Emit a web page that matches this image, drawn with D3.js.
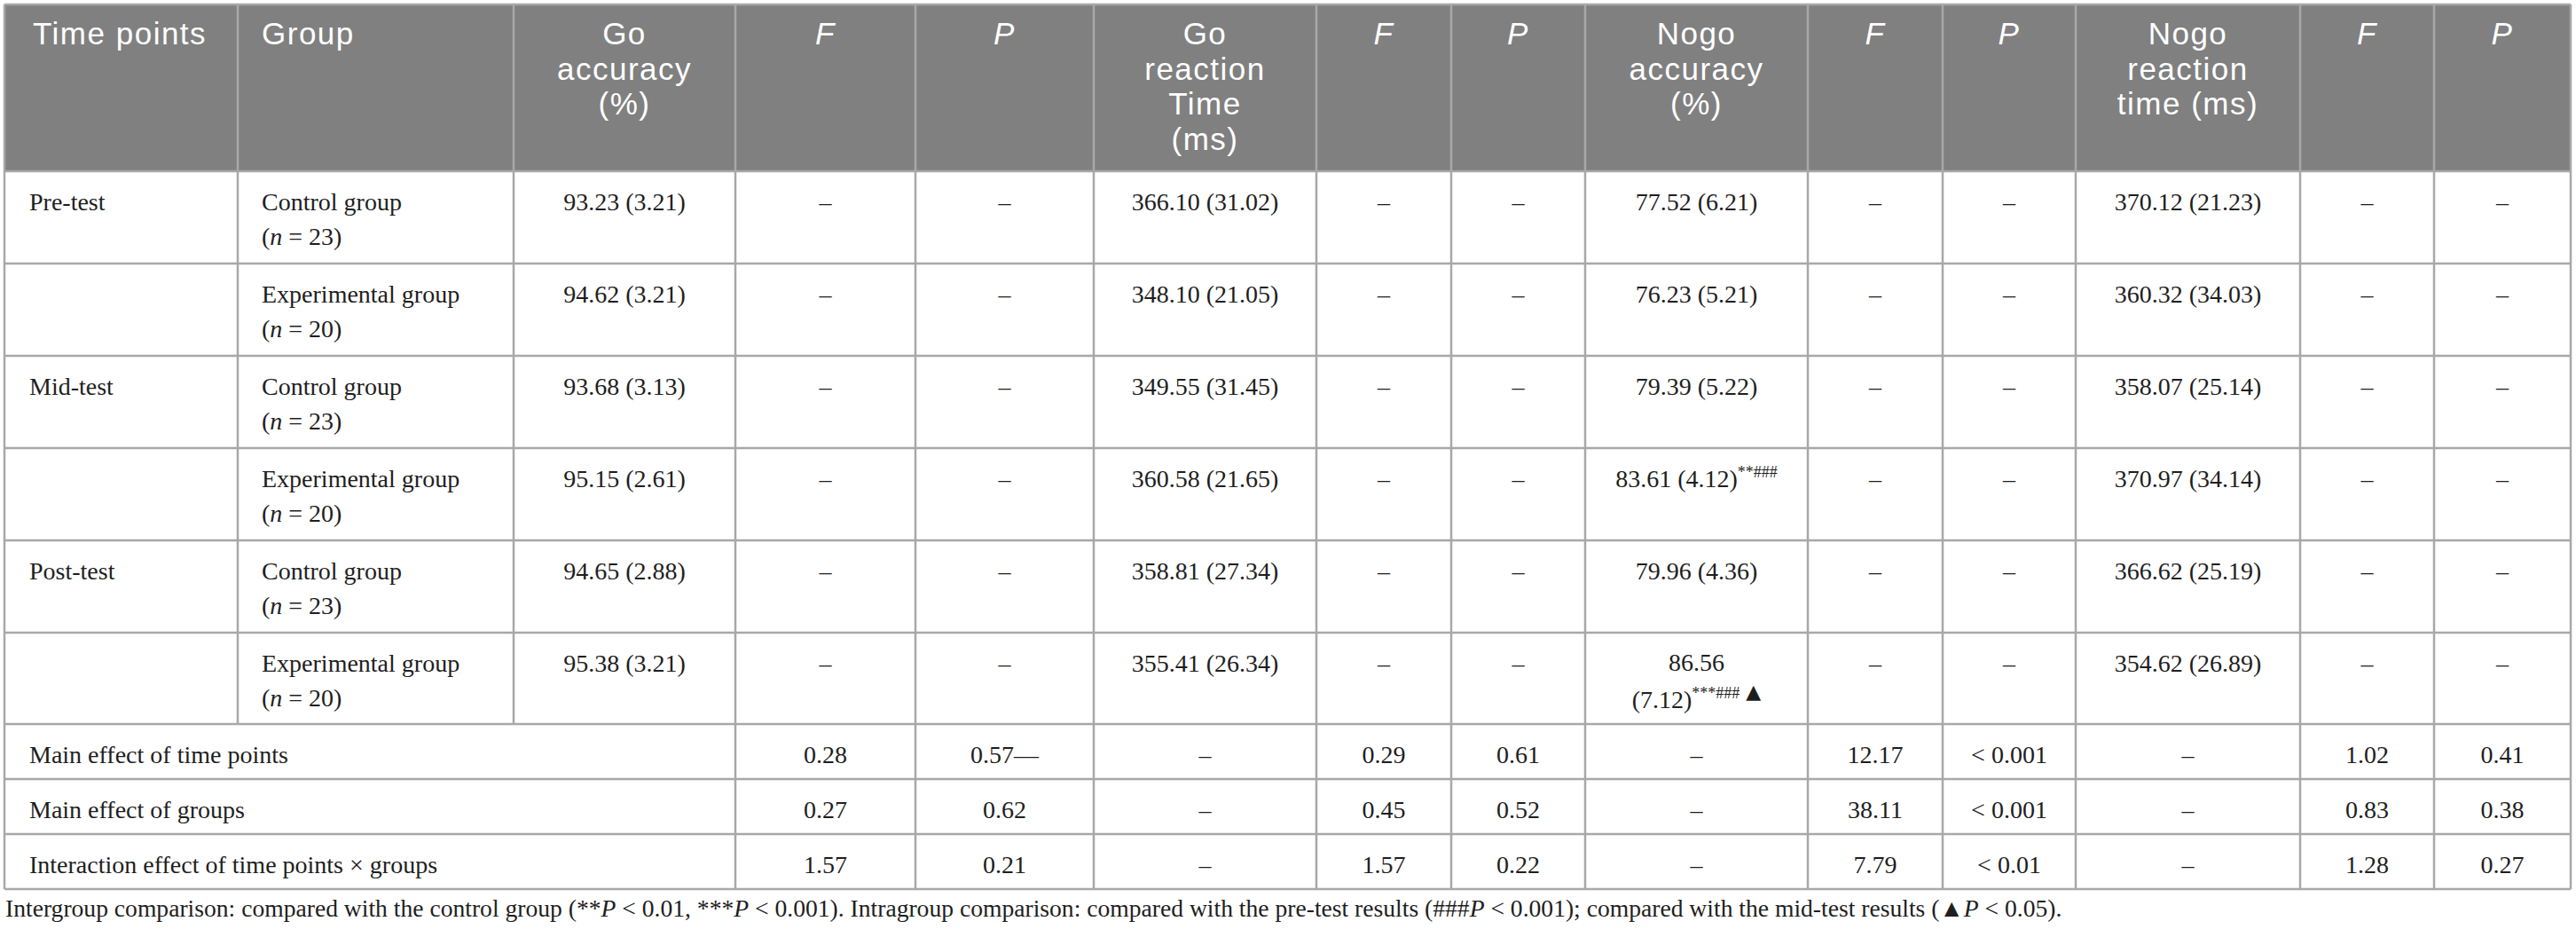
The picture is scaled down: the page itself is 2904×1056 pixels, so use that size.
<!DOCTYPE html>
<html>
<head>
<meta charset="utf-8">
<script src="https://cdn.jsdelivr.net/npm/d3@7"></script>
<style>
  body { margin: 0; background: #fff; }
</style>
</head>
<body>
<div id="app"></div>
<script>
// Table values
const headers = [
    ["Time points"], ["Group"], ["Go", "accuracy", "(%)"], ["F"], ["P"],
    ["Go", "reaction", "Time", "(ms)"], ["F"], ["P"],
    ["Nogo", "accuracy", "(%)"], ["F"], ["P"],
    ["Nogo", "reaction", "time (ms)"], ["F"], ["P"]
];

const timePoints = ["Pre-test", "", "Mid-test", "", "Post-test", ""];
const groupNames = ["Control group", "Experimental group", "Control group", "Experimental group", "Control group", "Experimental group"];
const groupSizes = [23, 20, 23, 20, 23, 20];

const goAccuracy = ["93.23 (3.21)", "94.62 (3.21)", "93.68 (3.13)", "95.15 (2.61)", "94.65 (2.88)", "95.38 (3.21)"];
const goReaction = ["366.10 (31.02)", "348.10 (21.05)", "349.55 (31.45)", "360.58 (21.65)", "358.81 (27.34)", "355.41 (26.34)"];
const nogoAccuracy = ["77.52 (6.21)", "76.23 (5.21)", "79.39 (5.22)", "83.61 (4.12)", "79.96 (4.36)", "86.56 (7.12)"];
const nogoMarks = ["", "", "", "**###", "", "***###"];
const nogoTriangle = [false, false, false, false, false, true];
const nogoReaction = ["370.12 (21.23)", "360.32 (34.03)", "358.07 (25.14)", "370.97 (34.14)", "366.62 (25.19)", "354.62 (26.89)"];

const effectLabels = ["Main effect of time points", "Main effect of groups", "Interaction effect of time points \u00D7 groups"];
const goAccF = ["0.28", "0.27", "1.57"];
const goAccP = ["0.57\u2014", "0.62", "0.21"];
const goRtF = ["0.29", "0.45", "1.57"];
const goRtP = ["0.61", "0.52", "0.22"];
const nogoAccF = ["12.17", "38.11", "7.79"];
const nogoAccP = ["< 0.001", "< 0.001", "< 0.01"];
const nogoRtF = ["1.02", "0.83", "1.28"];
const nogoRtP = ["0.41", "0.38", "0.27"];

const dash = "\u2013";

// Layout
const width = 2904;
const height = 1056;
const colEdges = [5, 268, 579, 829, 1032, 1233, 1484, 1636, 1787, 2038, 2190, 2340, 2593, 2744, 2898];
const rowEdges = [5, 193, 297, 401, 505, 609, 713, 816, 878, 940, 1002];

const sans = "'Liberation Sans', Arial, sans-serif";
const serif = "'Liberation Serif', 'DejaVu Serif', serif";
const lineColor = "#a8a8a8";
const textColor = "#1e1e1e";
const bodySize = 28;
const lineGap = 39;

// piecewise scales: column / row index -> pixel
const x = d3.scaleLinear().domain(d3.range(colEdges.length)).range(colEdges);
const y = d3.scaleLinear().domain(d3.range(rowEdges.length)).range(rowEdges);

const svg = d3.select('#app').append('svg')
    .attr('width', width)
    .attr('height', height)
    .attr('viewBox', `0 0 ${width} ${height}`)
    .style('display', 'block');

// Header background
svg.append('rect')
    .attr('x', x(0))
    .attr('y', y(0))
    .attr('width', x(14) - x(0))
    .attr('height', y(1) - y(0))
    .attr('fill', '#808080');

// Header text
const headerG = svg.append('g')
    .attr('font-family', sans)
    .attr('font-size', 35)
    .attr('letter-spacing', 1.5)
    .attr('fill', '#fff');

headers.forEach((lines, i) => {
    const left = i < 2;
    const tx = left ? x(i) + (i === 0 ? 32 : 27) : (x(i) + x(i + 1)) / 2;
    const italic = lines[0] === 'F' || lines[0] === 'P';
    lines.forEach((l, j) => {
        headerG.append('text')
            .attr('x', tx)
            .attr('y', y(0) + 45 + j * 39.5)
            .attr('text-anchor', left ? 'start' : 'middle')
            .attr('font-style', italic ? 'italic' : 'normal')
            .text(l);
    });
});

// Body
const bodyG = svg.append('g')
    .attr('font-family', serif)
    .attr('font-size', bodySize)
    .attr('fill', textColor);

function addMarks(t, marks, triangle) {
    t.append('tspan')
        .attr('dy', -11)
        .attr('font-size', 18)
        .text(marks);
    if (triangle) {
        t.append('tspan')
            .attr('font-size', 22)
            .attr('font-family', "'DejaVu Sans', sans-serif")
            .text(' \u25B2');
    }
}

function centerCell(col, rowTop, value, marks, triangle) {
    const cx = (x(col) + x(col + 1)) / 2;
    const t = bodyG.append('text')
        .attr('x', cx)
        .attr('y', rowTop + 44)
        .attr('text-anchor', 'middle');
    t.append('tspan').text(value);
    if (marks) addMarks(t, marks, triangle);

    // wrap to a second line when it doesn't fit in the column
    const avail = x(col + 1) - x(col) - 40;
    if (t.node().getComputedTextLength() > avail) {
        t.remove();
        const parts = value.split(' ');
        bodyG.append('text')
            .attr('x', cx)
            .attr('y', rowTop + 43)
            .attr('text-anchor', 'middle')
            .text(parts[0]);
        const t2 = bodyG.append('text')
            .attr('x', cx)
            .attr('y', rowTop + 43 + 42)
            .attr('text-anchor', 'middle');
        t2.append('tspan').text(parts.slice(1).join(' '));
        if (marks) addMarks(t2, marks, triangle);
    }
}

const measureCols = [goAccuracy, null, null, goReaction, null, null, nogoAccuracy, null, null, nogoReaction, null, null];

timePoints.forEach((tp, r) => {
    const top = y(r + 1);
    bodyG.append('text')
        .attr('x', x(0) + 28)
        .attr('y', top + 44)
        .text(tp);

    bodyG.append('text')
        .attr('x', x(1) + 27)
        .attr('y', top + 44)
        .text(groupNames[r]);

    const n = bodyG.append('text')
        .attr('x', x(1) + 27)
        .attr('y', top + 44 + lineGap);
    n.append('tspan').text('(');
    n.append('tspan').attr('font-style', 'italic').text('n');
    n.append('tspan').text(` = ${groupSizes[r]})`);

    measureCols.forEach((arr, k) => {
        const col = k + 2;
        if (arr === nogoAccuracy) {
            centerCell(col, top, arr[r], nogoMarks[r], nogoTriangle[r]);
        } else if (arr) {
            centerCell(col, top, arr[r], '', false);
        } else {
            centerCell(col, top, dash, '', false);
        }
    });
});

// Effect rows
const effectCols = [
    [3, goAccF], [4, goAccP], [5, null],
    [6, goRtF], [7, goRtP], [8, null],
    [9, nogoAccF], [10, nogoAccP], [11, null],
    [12, nogoRtF], [13, nogoRtP]
];

effectLabels.forEach((label, r) => {
    const base = y(r + 7) + 44;
    bodyG.append('text')
        .attr('x', x(0) + 28)
        .attr('y', base)
        .text(label);
    effectCols.forEach(([col, arr]) => {
        bodyG.append('text')
            .attr('x', (x(col) + x(col + 1)) / 2)
            .attr('y', base)
            .attr('text-anchor', 'middle')
            .text(arr ? arr[r] : dash);
    });
});

// Grid lines
const grid = svg.append('g')
    .attr('stroke', lineColor)
    .attr('stroke-width', 2.5)
    .attr('fill', 'none');

grid.selectAll('line.h')
    .data(rowEdges)
    .join('line')
    .attr('class', 'h')
    .attr('x1', x(0))
    .attr('x2', x(14))
    .attr('y1', d => d)
    .attr('y2', d => d);

colEdges.forEach((cx, i) => {
    // summary rows span the first three columns
    const bottom = (i === 1 || i === 2) ? y(7) : y(10);
    grid.append('line')
        .attr('x1', cx)
        .attr('x2', cx)
        .attr('y1', y(0))
        .attr('y2', bottom);
});

// Footnote
const note = svg.append('text')
    .attr('x', 6)
    .attr('y', 1033)
    .attr('font-family', serif)
    .attr('font-size', 27.6)
    .attr('fill', textColor);

const noteParts = [
    ["Intergroup comparison: compared with the control group (**", false],
    ["P", true],
    [" < 0.01, ***", false],
    ["P", true],
    [" < 0.001). Intragroup comparison: compared with the pre-test results (###", false],
    ["P", true],
    [" < 0.001); compared with the mid-test results (\u25B2", false],
    ["P", true],
    [" < 0.05).", false]
];
noteParts.forEach(([s, it]) => {
    note.append('tspan')
        .attr('font-style', it ? 'italic' : 'normal')
        .text(s);
});
</script>
</body>
</html>
